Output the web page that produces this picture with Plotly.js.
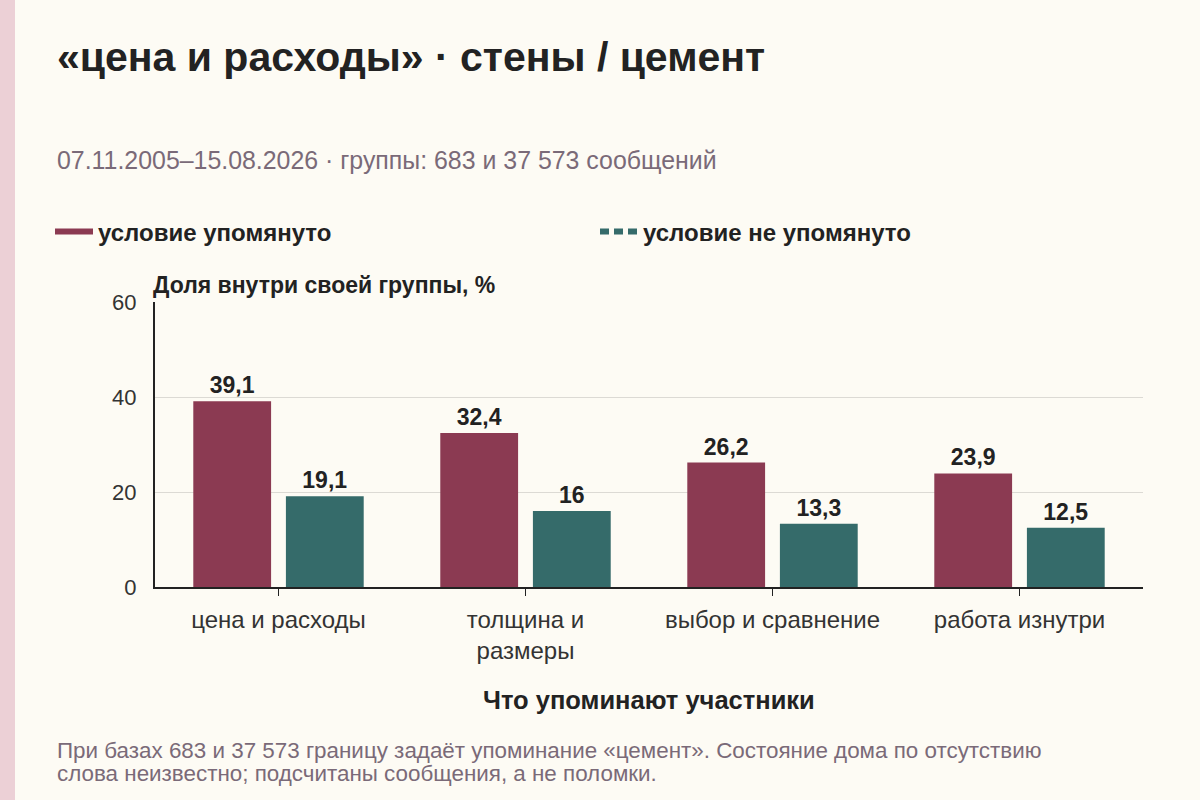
<!DOCTYPE html>
<html>
<head>
<meta charset="utf-8">
<script src="https://cdn.plot.ly/plotly-3.0.1.min.js"></script>
<style>
html,body{margin:0;padding:0;}
body{width:1200px;height:800px;background:linear-gradient(to right,#ecd0d6 0,#ecd0d6 15px,#fdfbf4 15px);}
#chart{position:absolute;left:0;top:0;width:1200px;height:800px;}
</style>
</head>
<body>
<div id="chart"></div>
<script>
const categories = ["цена и расходы", "толщина и<br>размеры", "выбор и сравнение", "работа изнутри"];
const mentioned = [39.1, 32.4, 26.2, 23.9];
const notMentioned = [19.1, 16, 13.3, 12.5];
const seriesNames = ["условие упомянуто", "условие не упомянуто"];
const yTicks = [0, 20, 40, 60];

const titleText = "«цена и расходы» · стены / цемент";
const subtitleText = "07.11.2005–15.08.2026 · группы: 683 и 37 573 сообщений";
const yTitleText = "Доля внутри своей группы, %";
const xTitleText = "Что упоминают участники";
const noteLines = ["При базах 683 и 37 573 границу задаёт упоминание «цемент». Состояние дома по отсутствию",
                   "слова неизвестно; подсчитаны сообщения, а не поломки."];

const C1 = "#8b3a52", C2 = "#356b6a";
const FONT = "Liberation Sans, Arial, sans-serif";
const fmt = v => String(v).replace(".", ",");

const traces = [
  {type:"bar", x:categories, y:mentioned, marker:{color:C1}, showlegend:false,
   text:mentioned.map(fmt), textposition:"outside", cliponaxis:false,
   textfont:{family:FONT, size:23, color:"#222", weight:"bold"}, hoverinfo:"skip"},
  {type:"bar", x:categories, y:notMentioned, marker:{color:C2}, showlegend:false,
   text:notMentioned.map(fmt), textposition:"outside", cliponaxis:false,
   textfont:{family:FONT, size:23, color:"#222", weight:"bold"}, hoverinfo:"skip"},
  {type:"scatter", mode:"lines", x:[null], y:[null], name:seriesNames[0], line:{color:C1, width:6}},
  {type:"scatter", mode:"lines", x:[null], y:[null], name:seriesNames[1], line:{color:C2, width:6, dash:"9px,5px"}}
];

const py = v => (587 - v) / 285;   // page y -> paper y
const px = v => (v - 155) / 988;   // page x -> paper x

const layout = {
  width:1200, height:800,
  paper_bgcolor:"rgba(0,0,0,0)", plot_bgcolor:"rgba(0,0,0,0)",
  margin:{l:155, r:57, t:302, b:213},
  font:{family:FONT, color:"#333"},
  barmode:"group", bargap:0.25, bargroupgap:0.16,
  title:{text:titleText, x:57/1200, xanchor:"left", xref:"container", y:1-57/800, yanchor:"middle", yref:"container",
         font:{family:FONT, size:41, color:"#222", weight:"bold"}},
  legend:{orientation:"h", x:px(50), xanchor:"left", y:py(232), yanchor:"middle",
          entrywidth:492, entrywidthmode:"pixels", itemwidth:38,
          font:{family:FONT, size:24, color:"#222", weight:"bold"}, bgcolor:"rgba(0,0,0,0)"},
  xaxis:{type:"category", showline:true, linecolor:"#222", linewidth:2, ticks:"outside", ticklen:7, tickcolor:"#222",
         tickfont:{family:FONT, size:24, color:"#333"}, ticklabelstandoff:3, showgrid:false, fixedrange:true},
  yaxis:{range:[0,60], tickvals:yTicks, ticktext:yTicks.map(String), showline:true, linecolor:"#222", linewidth:2,
         ticks:"", showgrid:true, gridcolor:"#dcdad4", gridwidth:1, zeroline:false,
         tickfont:{family:FONT, size:22, color:"#333"}, ticklabelstandoff:12, fixedrange:true},
  annotations:[
    {text:subtitleText, xref:"paper", yref:"paper", x:px(55), y:py(160), xanchor:"left", yanchor:"middle", showarrow:false,
     font:{family:FONT, size:24.9, color:"#7a6a78"}},
    {text:yTitleText, xref:"paper", yref:"paper", x:px(151), y:py(285), xanchor:"left", yanchor:"middle", showarrow:false,
     font:{family:FONT, size:23, color:"#222", weight:"bold"}},
    {text:xTitleText, xref:"paper", yref:"paper", x:px(649), y:py(700), xanchor:"center", yanchor:"middle", showarrow:false,
     font:{family:FONT, size:25.5, color:"#222", weight:"bold"}},
    {text:noteLines[0], xref:"paper", yref:"paper", x:px(55), y:py(750), xanchor:"left", yanchor:"middle", showarrow:false,
     font:{family:FONT, size:22.4, color:"#7a6a78"}},
    {text:noteLines[1], xref:"paper", yref:"paper", x:px(55), y:py(773), xanchor:"left", yanchor:"middle", showarrow:false,
     font:{family:FONT, size:22.4, color:"#7a6a78"}}
  ]
};

Plotly.newPlot("chart", traces, layout, {displayModeBar:false, staticPlot:true});
</script>
</body>
</html>
